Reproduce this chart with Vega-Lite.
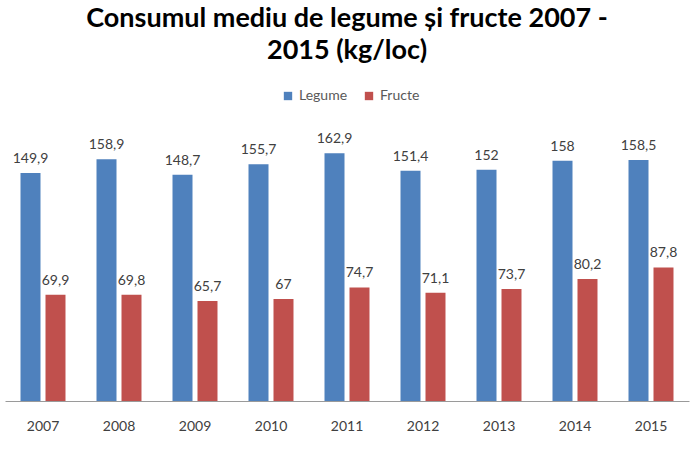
{
  "$schema": "https://vega.github.io/schema/vega-lite/v6.json",
  "autosize": {"type": "none"},
  "padding": {"left": 5, "top": 130, "right": 11, "bottom": 57},
  "width": 684,
  "height": 271,
  "background": "white",
  "config": {
    "view": {"stroke": null},
    "font": "Lato",
    "locale": {"number": {"decimal": ",", "thousands": ".", "grouping": [3], "currency": ["", ""]}}
  },
  "title": {
    "text": ["Consumul mediu de legume și fructe 2007 -", "2015 (kg/loc)"],
    "font": "Lato",
    "fontSize": 27,
    "fontWeight": "bold",
    "color": "black",
    "lineHeight": 32,
    "anchor": "middle",
    "offset": 24
  },
  "data": {
    "values": [
      {"an": "2007", "tip": "Legume", "valoare": 149.9},
      {"an": "2007", "tip": "Fructe", "valoare": 69.9},
      {"an": "2008", "tip": "Legume", "valoare": 158.9},
      {"an": "2008", "tip": "Fructe", "valoare": 69.8},
      {"an": "2009", "tip": "Legume", "valoare": 148.7},
      {"an": "2009", "tip": "Fructe", "valoare": 65.7},
      {"an": "2010", "tip": "Legume", "valoare": 155.7},
      {"an": "2010", "tip": "Fructe", "valoare": 67},
      {"an": "2011", "tip": "Legume", "valoare": 162.9},
      {"an": "2011", "tip": "Fructe", "valoare": 74.7},
      {"an": "2012", "tip": "Legume", "valoare": 151.4},
      {"an": "2012", "tip": "Fructe", "valoare": 71.1},
      {"an": "2013", "tip": "Legume", "valoare": 152},
      {"an": "2013", "tip": "Fructe", "valoare": 73.7},
      {"an": "2014", "tip": "Legume", "valoare": 158},
      {"an": "2014", "tip": "Fructe", "valoare": 80.2},
      {"an": "2015", "tip": "Legume", "valoare": 158.5},
      {"an": "2015", "tip": "Fructe", "valoare": 87.8}
    ]
  },
  "encoding": {
    "x": {
      "field": "an",
      "type": "nominal",
      "sort": null,
      "scale": {"paddingInner": 0.408, "paddingOuter": 0.204},
      "axis": {
        "title": null,
        "labelAngle": 0,
        "ticks": false,
        "domainColor": "#9a9a9a",
        "labelFont": "Lato",
        "labelFontSize": 14,
        "labelColor": "#404040",
        "labelPadding": 18
      }
    },
    "xOffset": {
      "field": "tip",
      "type": "nominal",
      "sort": ["Legume", "Fructe"],
      "scale": {"paddingInner": 0.2, "paddingOuter": 0}
    },
    "y": {
      "field": "valoare",
      "type": "quantitative",
      "scale": {"domain": [0, 178.2], "nice": false},
      "axis": null
    }
  },
  "layer": [
    {
      "mark": {"type": "bar"},
      "encoding": {
        "color": {
          "field": "tip",
          "type": "nominal",
          "sort": ["Legume", "Fructe"],
          "scale": {"domain": ["Legume", "Fructe"], "range": ["#4F81BD", "#C0504D"]},
          "legend": {
            "title": null,
            "orient": "none",
            "direction": "horizontal",
            "legendX": 276,
            "legendY": -41,
            "symbolType": "square",
            "symbolSize": 70,
            "symbolStrokeWidth": 0,
            "labelFont": "Lato",
            "labelFontSize": 14,
            "labelColor": "#595959",
            "columnPadding": 14,
            "labelOffset": 4
          }
        }
      }
    },
    {
      "mark": {"type": "text", "baseline": "bottom", "dy": -7, "font": "Lato", "fontSize": 14, "color": "#404040"},
      "encoding": {
        "text": {"field": "valoare", "type": "quantitative", "format": ".1~f"}
      }
    }
  ]
}
